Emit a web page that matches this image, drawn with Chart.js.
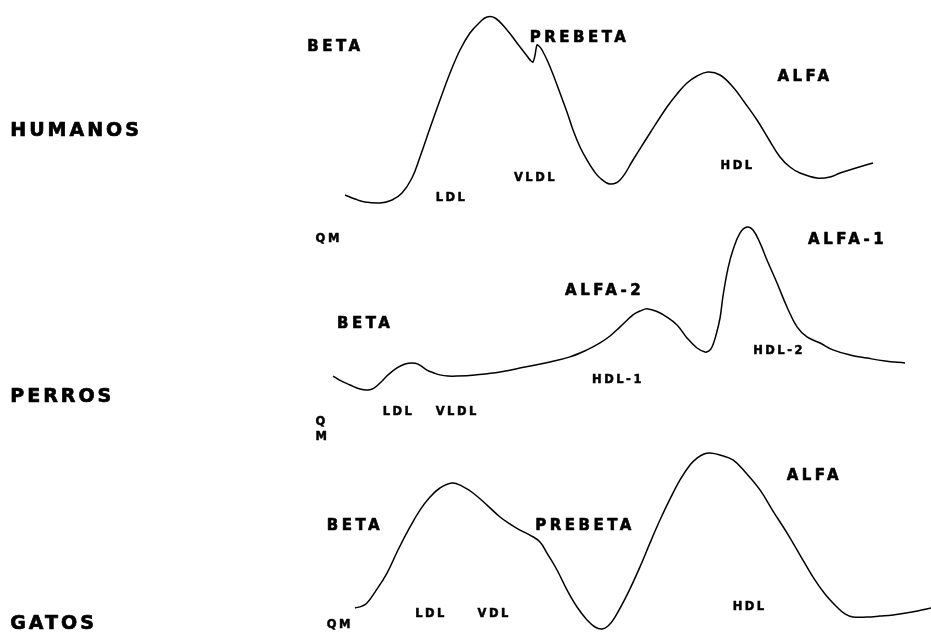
<!DOCTYPE html>
<html>
<head>
<meta charset="utf-8">
<script src="https://cdn.jsdelivr.net/npm/chart.js@4/dist/chart.umd.min.js"></script>
<style>
  html, body { margin: 0; padding: 0; background: #fff; }
  #wrap { position: relative; width: 931px; height: 632px; overflow: hidden; background: #fff; }
  canvas { position: absolute; left: 0; }
</style>
</head>
<body>
<div id="wrap">
  <canvas id="cHum" width="931" height="250" style="top:0px"></canvas>
  <canvas id="cDog" width="931" height="240" style="top:210px"></canvas>
  <canvas id="cCat" width="931" height="192" style="top:440px"></canvas>
</div>
<script>
// ---- DATA (electrophoretic mobility on x, relative intensity on y) ----
const humanMobility = [37.06, 38.13, 39.21, 40.82, 42.11, 43.18, 44.25, 45.11, 46.19, 47.26, 48.34, 49.41, 50.48, 51.56, 52.31, 53.17, 54.46, 55.53, 56.61, 57.04, 57.25, 57.47, 57.68, 57.89, 58.22, 58.86, 59.51, 60.15, 60.90, 61.55, 62.30, 63.05, 63.80, 64.45, 65.52, 66.60, 67.99, 69.82, 71.64, 72.72, 73.79, 74.87, 76.05, 77.34, 78.73, 80.02, 81.31, 82.49, 83.78, 84.85, 85.93, 87.76, 89.15, 90.23, 91.94, 93.77];
const humanIntensity = [22.0, 20.4, 19.2, 18.8, 20.0, 22.8, 28.8, 37.2, 48.8, 60.0, 70.8, 80.0, 86.8, 91.2, 93.2, 92.8, 88.0, 82.8, 77.6, 75.6, 75.2, 78.0, 82.0, 81.6, 80.0, 75.2, 69.2, 62.8, 55.2, 48.0, 41.2, 36.0, 31.6, 28.8, 26.4, 28.0, 36.0, 46.8, 57.2, 62.4, 66.8, 69.6, 71.2, 70.0, 65.2, 58.8, 52.0, 44.8, 37.2, 33.2, 30.8, 28.8, 29.2, 30.8, 32.8, 34.8];

const dogMobility = [35.77, 36.63, 37.59, 38.67, 39.53, 40.17, 40.82, 41.68, 42.64, 43.50, 44.25, 44.90, 45.86, 46.62, 47.26, 48.12, 49.09, 51.02, 53.71, 56.39, 59.08, 61.22, 63.05, 64.45, 65.52, 66.60, 67.99, 68.74, 69.60, 70.68, 71.64, 72.72, 73.79, 74.87, 75.73, 76.15, 76.48, 76.91, 77.34, 77.66, 78.20, 78.73, 79.48, 80.24, 80.88, 81.63, 82.38, 83.46, 84.53, 85.61, 86.68, 88.08, 89.47, 91.30, 93.13, 95.06, 97.21];
const dogIntensity = [30.8, 28.8, 27.1, 25.4, 25.0, 25.8, 27.9, 31.3, 34.2, 35.8, 36.3, 35.8, 33.3, 32.1, 31.3, 30.8, 30.8, 31.3, 32.5, 34.6, 36.7, 38.8, 41.7, 44.6, 47.5, 51.3, 56.3, 57.9, 58.8, 57.5, 55.4, 52.1, 46.7, 42.5, 40.8, 41.3, 42.9, 47.9, 55.0, 64.2, 75.8, 83.3, 90.4, 92.9, 91.7, 86.3, 79.2, 69.6, 59.6, 51.3, 47.1, 44.6, 41.7, 39.6, 38.3, 37.1, 36.3];

const catMobility = [38.13, 38.88, 39.42, 40.28, 41.57, 42.75, 44.04, 45.11, 46.19, 47.26, 48.55, 49.62, 50.81, 52.31, 53.71, 54.78, 55.85, 56.93, 58.00, 58.75, 59.83, 60.90, 61.98, 63.05, 63.91, 64.66, 65.31, 66.06, 67.35, 68.74, 69.82, 70.89, 71.97, 73.04, 74.11, 74.87, 75.62, 76.26, 77.34, 78.73, 80.13, 81.63, 83.03, 84.53, 85.93, 87.33, 88.61, 89.90, 90.76, 91.62, 93.13, 94.52, 95.92, 97.96, 100.0];
const catIntensity = [12.5, 13.5, 15.1, 20.8, 30.7, 42.7, 54.7, 63.5, 70.3, 75.0, 77.6, 76.0, 72.4, 66.1, 59.9, 56.3, 53.1, 50.5, 46.9, 41.1, 32.3, 21.9, 13.0, 6.3, 2.6, 1.6, 3.1, 7.8, 19.3, 33.9, 46.4, 58.3, 69.3, 79.2, 87.0, 90.6, 92.7, 93.2, 92.2, 89.6, 82.8, 74.0, 63.0, 51.6, 40.1, 28.6, 19.8, 13.0, 9.4, 7.8, 7.8, 8.3, 8.9, 10.4, 12.5];

// ---- LABEL TEXTS ----
const humanLabels = ['BETA', 'PREBETA', 'ALFA', 'LDL', 'VLDL', 'HDL', 'QM', 'HUMANOS'];
const dogLabels = ['ALFA-1', 'ALFA-2', 'BETA', 'HDL-2', 'HDL-1', 'LDL', 'VLDL', 'Q', 'M', 'PERROS'];
const catLabels = ['ALFA', 'BETA', 'PREBETA', 'HDL', 'LDL', 'VDL', 'QM', 'GATOS'];

// ---- label placement (data units) and styles ----
const BIG = {font: 'bold 15px "DejaVu Sans"', spacing: '3.5px', stroke: 0.6};
const SMALL = {font: 'bold 11.5px "DejaVu Sans"', spacing: '2.5px', stroke: 0.5};
const SPECIES = {font: 'bold 19px "DejaVu Sans"', spacing: '3px', stroke: 0.7};

const humanPlace = [
  [33.0, 81.2, BIG], [56.9, 84.8, BIG], [83.5, 69.2, BIG],
  [46.8, 20.8, SMALL], [55.2, 28.8, SMALL], [77.4, 33.6, SMALL], [33.9, 4.4, SMALL],
  [1.1, 47.6, SPECIES]
];
const dogPlace = [
  [86.8, 87.5, BIG], [60.7, 66.3, BIG], [36.2, 52.5, BIG],
  [80.9, 41.3, SMALL], [63.6, 29.2, SMALL], [41.1, 15.8, SMALL], [46.8, 15.8, SMALL],
  [33.9, 11.7, SMALL], [33.9, 5.4, SMALL],
  [1.1, 22.1, SPECIES]
];
const catPlace = [
  [84.5, 81.3, BIG], [35.1, 55.2, BIG], [57.5, 55.2, BIG],
  [78.7, 13.0, SMALL], [44.6, 9.4, SMALL], [51.3, 9.4, SMALL], [35.1, 3.6, SMALL],
  [1.1, 4.2, SPECIES]
];

function labelPlugin(texts, place) {
  return {
    id: 'peakLabels',
    afterDatasetsDraw(chart) {
      const ctx = chart.ctx;
      const xs = chart.scales.x, ys = chart.scales.y;
      ctx.save();
      ctx.fillStyle = '#000';
      ctx.strokeStyle = '#000';
      ctx.lineJoin = 'round';
      ctx.textAlign = 'left';
      ctx.textBaseline = 'middle';
      texts.forEach((t, i) => {
        const [x, y, st] = place[i];
        const px = xs.getPixelForValue(x), py = ys.getPixelForValue(y);
        ctx.font = st.font;
        ctx.letterSpacing = st.spacing;
        ctx.lineWidth = st.stroke;
        ctx.fillText(t, px, py);
        ctx.strokeText(t, px, py);
      });
      ctx.restore();
    }
  };
}

function makeChart(id, xs, ys, texts, place) {
  const pts = xs.map((x, i) => ({x: x, y: ys[i]}));
  return new Chart(document.getElementById(id), {
    type: 'line',
    data: {
      datasets: [{
        data: pts,
        borderColor: '#000',
        borderWidth: 1.5,
        pointRadius: 0,
        fill: false,
        tension: 0.4,
        clip: false
      }]
    },
    options: {
      responsive: false,
      animation: false,
      devicePixelRatio: 1,
      layout: {padding: 0},
      plugins: {legend: {display: false}, tooltip: {enabled: false}},
      scales: {
        x: {type: 'linear', min: 0, max: 100, display: false},
        y: {type: 'linear', min: 0, max: 100, display: false}
      }
    },
    plugins: [labelPlugin(texts, place)]
  });
}

makeChart('cHum', humanMobility, humanIntensity, humanLabels, humanPlace);
makeChart('cDog', dogMobility, dogIntensity, dogLabels, dogPlace);
makeChart('cCat', catMobility, catIntensity, catLabels, catPlace);
</script>
</body>
</html>
